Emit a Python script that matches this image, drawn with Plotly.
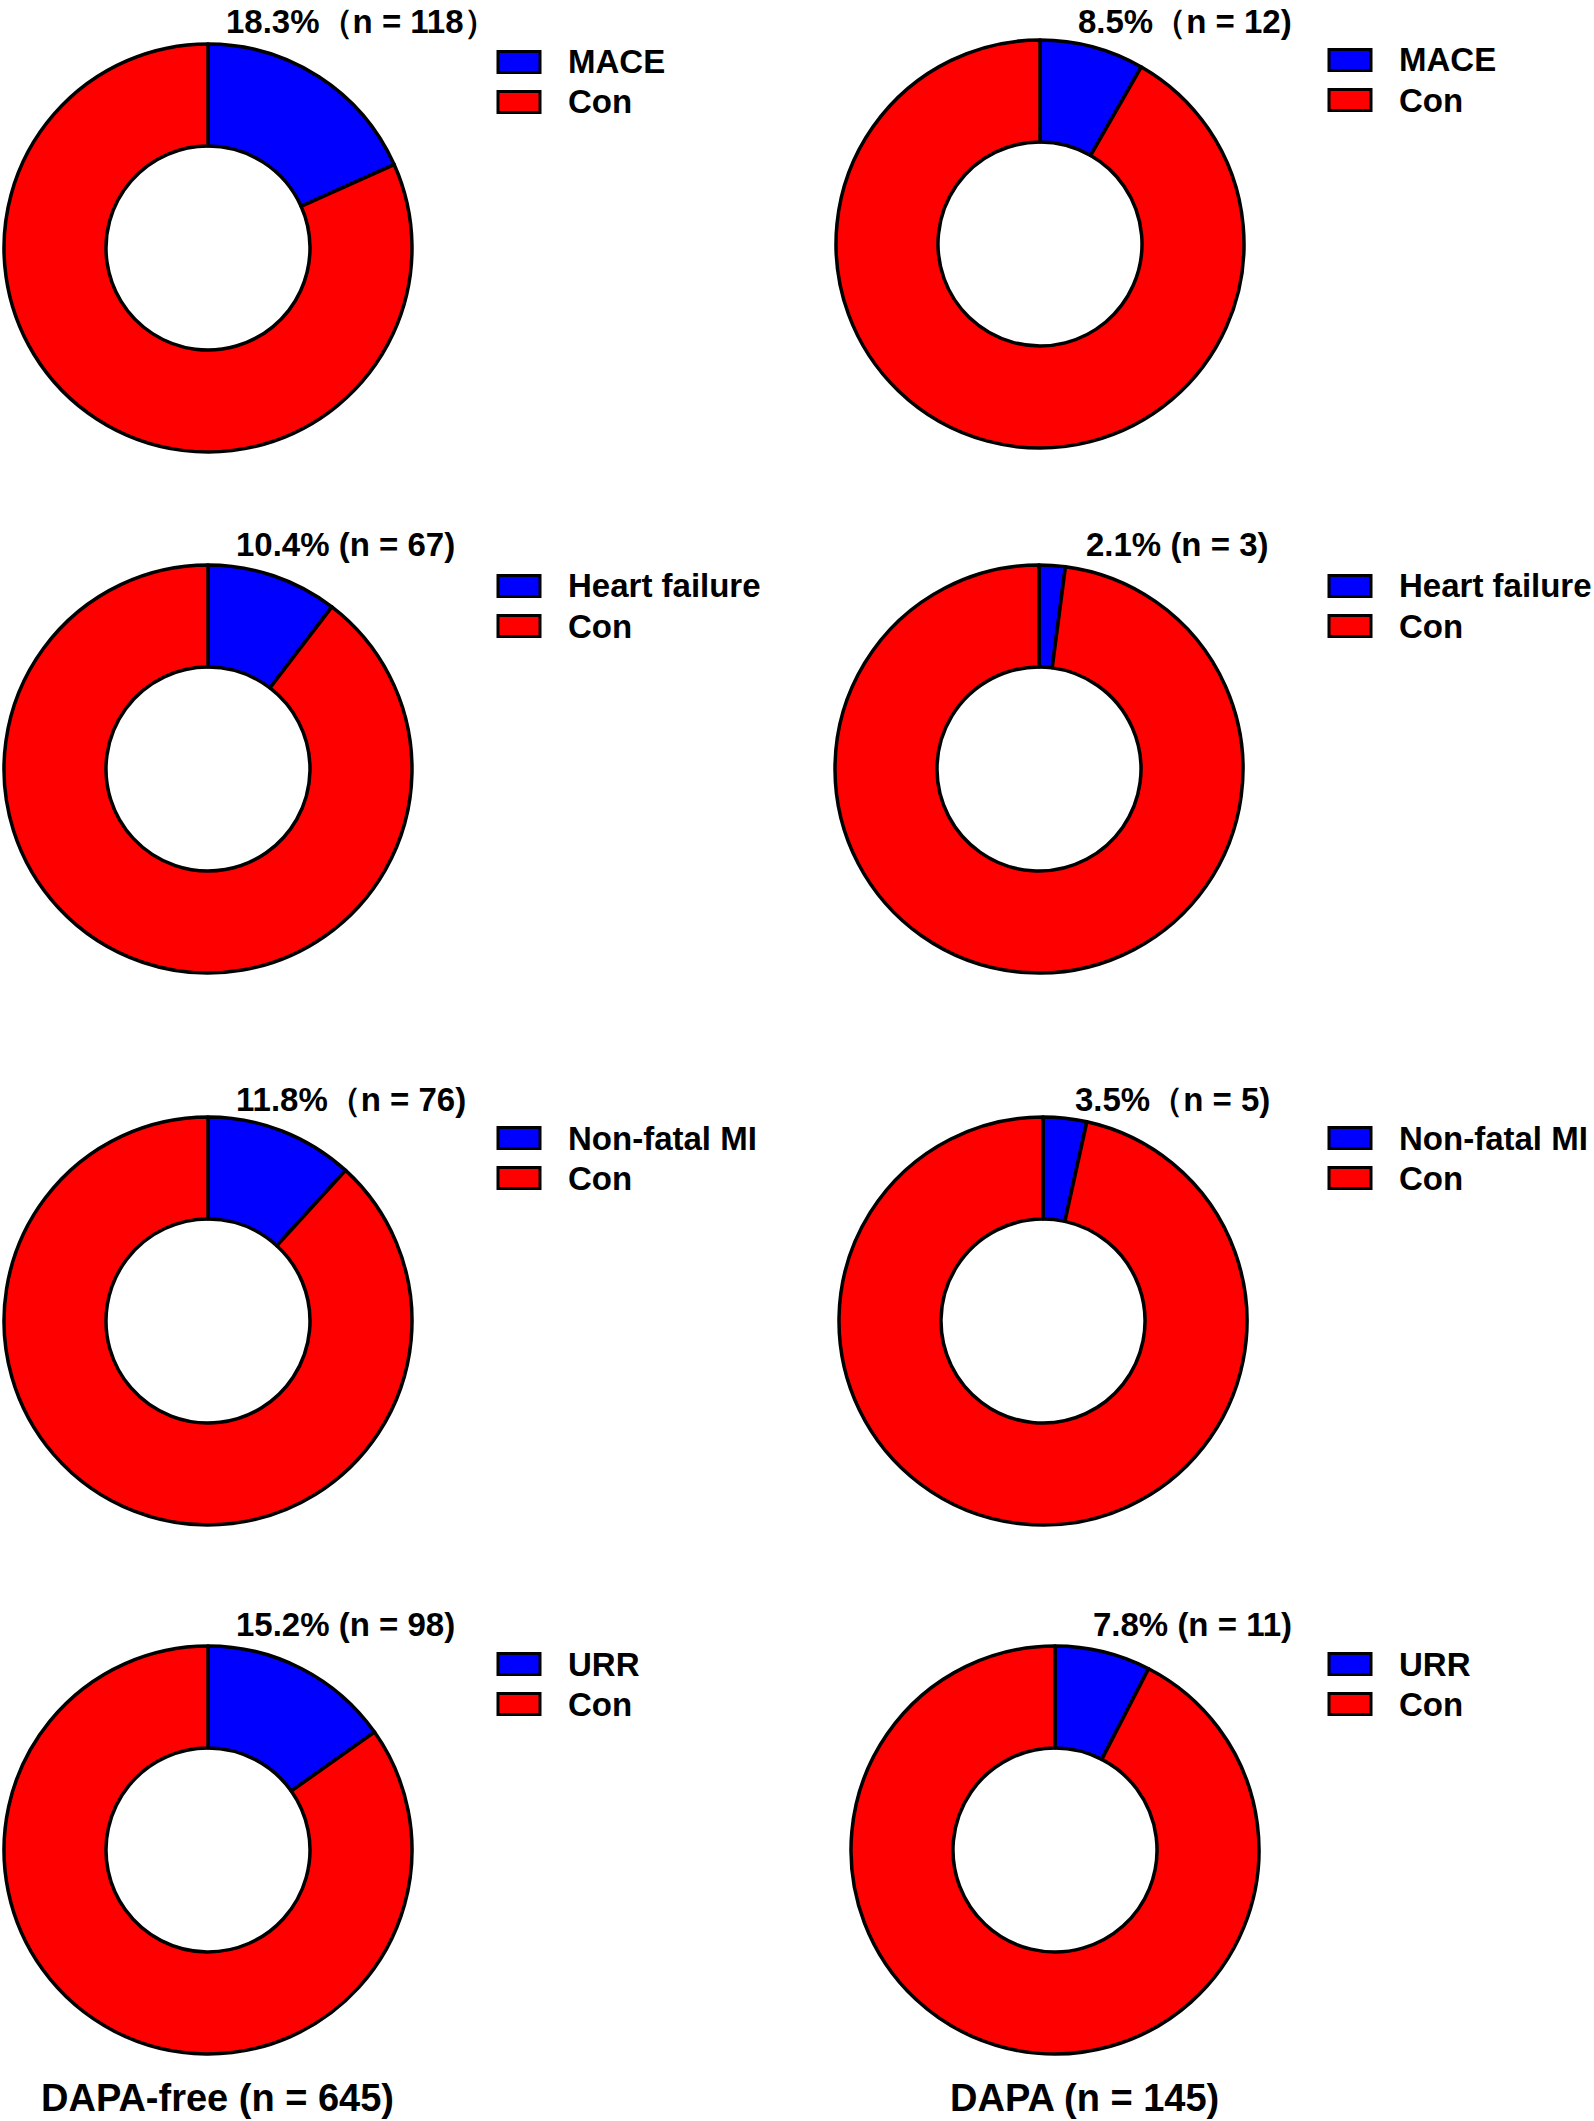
import plotly.graph_objects as go

# ---------------------------------------------------------------------------
# Data
# ---------------------------------------------------------------------------
groups = ["DAPA-free (n = 645)", "DAPA (n = 145)"]
outcomes = ["MACE", "Heart failure", "Non-fatal MI", "URR"]
events_free = [118, 67, 76, 98]
con_free = [527, 578, 569, 547]
events_dapa = [12, 3, 5, 11]
con_dapa = [133, 142, 140, 134]
titles_free = ["18.3%（n = 118）", "10.4% (n = 67)", "11.8%（n = 76)", "15.2% (n = 98)"]
titles_dapa = ["8.5%（n = 12)", "2.1% (n = 3)", "3.5%（n = 5)", "7.8% (n = 11)"]

COLORS = ["#0000ff", "#ff0000"]
W, H = 1594, 2121
FONT = "Liberation Sans, Arial, sans-serif"

# pixel layout: pie centres, radius, title and legend anchors
R = 204
centres = {
    0: [(208, 248), (208, 769), (208, 1321), (208, 1850)],
    1: [(1040, 244), (1039, 769), (1043, 1321), (1055, 1850)],
}
title_pos = {
    0: [(224, 21), (234, 544), (234, 1099), (234, 1624)],
    1: [(1076, 21), (1084, 544), (1073, 1099), (1091, 1624)],
}
# (swatch left x, first row centre y)
legend_pos = {
    0: [(498, 62), (498, 586), (498, 1138), (498, 1664)],
    1: [(1329, 60), (1329, 586), (1329, 1138), (1329, 1664)],
}
LEG_ROW = 40
SW_W, SW_H, TXT_GAP = 42, 21, 26
footer_x = [218, 1084]


def px_x(x):
    return x / W


def px_y(y):
    return 1 - y / H


fig = go.Figure()
annotations = []
shapes = []

for g, (events, cons, titles) in enumerate(
        [(events_free, con_free, titles_free),
         (events_dapa, con_dapa, titles_dapa)]):
    for i, outcome in enumerate(outcomes):
        labels = [outcome, "Con"]
        cx, cy = centres[g][i]
        fig.add_trace(go.Pie(
            labels=labels,
            values=[events[i], cons[i]],
            hole=0.5,
            sort=False,
            direction="clockwise",
            rotation=0,
            textinfo="none",
            hoverinfo="label+value+percent",
            showlegend=False,
            marker=dict(colors=COLORS, line=dict(color="black", width=3.5)),
            domain=dict(x=[px_x(cx - R), px_x(cx + R)],
                        y=[px_y(cy + R), px_y(cy - R)]),
        ))
        tx, ty = title_pos[g][i]
        annotations.append(dict(
            text=titles[i], x=px_x(tx), y=px_y(ty),
            xref="paper", yref="paper", xanchor="left", yanchor="middle",
            showarrow=False,
            font=dict(family=FONT, size=33, color="black", weight="bold"),
        ))
        # legend block: swatch + label for each slice
        lx, ly = legend_pos[g][i]
        for j, lab in enumerate(labels):
            yc = ly + j * LEG_ROW
            shapes.append(dict(
                type="rect", xref="paper", yref="paper",
                x0=px_x(lx), x1=px_x(lx + SW_W),
                y0=px_y(yc + SW_H / 2), y1=px_y(yc - SW_H / 2),
                fillcolor=COLORS[j], line=dict(color="black", width=3),
            ))
            annotations.append(dict(
                text=lab, x=px_x(lx + SW_W + TXT_GAP), y=px_y(yc),
                xref="paper", yref="paper", xanchor="left", yanchor="middle",
                showarrow=False,
                font=dict(family=FONT, size=33, color="black", weight="bold"),
            ))

for g, label in enumerate(groups):
    annotations.append(dict(
        text=label, x=px_x(footer_x[g]), y=0,
        xref="paper", yref="paper", xanchor="center", yanchor="bottom",
        showarrow=False,
        font=dict(family=FONT, size=38, color="black", weight="bold"),
    ))

fig.update_layout(
    width=W, height=H,
    margin=dict(l=0, r=0, t=0, b=0),
    paper_bgcolor="white",
    plot_bgcolor="white",
    showlegend=False,
    annotations=annotations,
    shapes=shapes,
)

fig.write_html("out.html", config={"displayModeBar": False},
               post_script="document.body.style.margin='0';")
